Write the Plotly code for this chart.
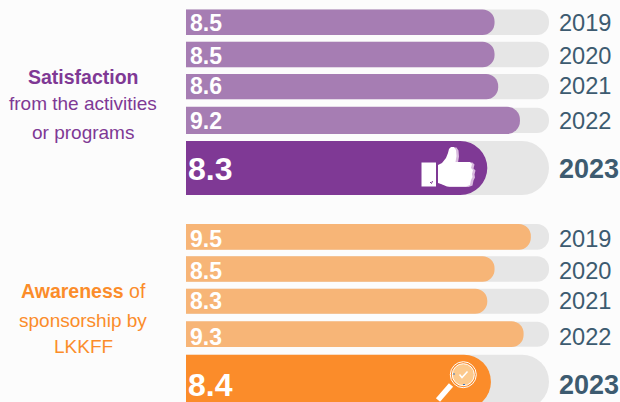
import plotly.graph_objects as go

# Survey scores out of 10
years = ["2019", "2020", "2021", "2022", "2023"]
satisfaction = [8.5, 8.5, 8.6, 9.2, 8.3]
awareness = [9.5, 8.5, 8.3, 9.3, 8.4]
scale_max = 10

# Row layout in page pixels: (top, bottom, track top, track bottom, label centre)
W, H = 620, 402
satisfaction_rows = [
    (9.5, 35, 9.5, 35, 23),
    (41.7, 67.3, 41.7, 67.3, 56),
    (74, 99.3, 74, 99.3, 86),
    (106.7, 134, 107.7, 133, 121),
    (141, 195, 141, 195, 169),
]
awareness_rows = [
    (224, 249.7, 224, 249.7, 239),
    (256.3, 281.7, 256.3, 281.7, 271),
    (288.7, 313.7, 288.7, 313.7, 301),
    (321.3, 347, 321.7, 346.7, 337),
    (354.7, 409, 354.7, 409, 385),
]

TRACK = "#e6e6e6"
PURPLE, PURPLE_SOFT = "#7f3995", "#a67db3"
ORANGE, ORANGE_SOFT = "#fb8c2a", "#f7b577"
YEAR_COLOR = "#3d5b70"
FONT = "Liberation Sans, Arial, sans-serif"

PX_PER_UNIT = 36.3
X0 = 186

fig = go.Figure()
annotations = []


def add_group(values, rows, strong, soft):
    for i, (val, row) in enumerate(zip(values, rows)):
        top, bottom, t_top, t_bottom, mid = row
        latest = i == len(values) - 1
        # Grey tracks sit on the base axes, scores on the overlaid pair above them
        fig.add_trace(go.Bar(
            x=[scale_max], y=[(t_top + t_bottom) / 2], width=[t_bottom - t_top],
            orientation="h", marker=dict(color=TRACK, cornerradius=(t_bottom - t_top) / 2, line_width=0),
            hoverinfo="skip", showlegend=False))
        fig.add_trace(go.Bar(
            x=[val], y=[(top + bottom) / 2], width=[bottom - top], xaxis="x2", yaxis="y2",
            orientation="h", marker=dict(color=strong if latest else soft,
                                         cornerradius=(bottom - top) / 2, line_width=0),
            hoverinfo="skip", showlegend=False))
        annotations.append(dict(
            x=0, y=mid, xref="x", yref="y", xanchor="left", yanchor="middle",
            xshift=0 if latest else 2, text=f"<b>{val:.1f}</b>", showarrow=False,
            font=dict(family=FONT, color="white", size=32 if latest else 23)))
        annotations.append(dict(
            x=scale_max, y=mid, xref="x", yref="y", xanchor="left", yanchor="middle",
            xshift=8, text=f"<b>{years[i]}</b>" if latest else years[i], showarrow=False,
            font=dict(family=FONT, color=YEAR_COLOR, size=27 if latest else 23.6)))


add_group(satisfaction, satisfaction_rows, PURPLE, PURPLE_SOFT)
add_group(awareness, awareness_rows, ORANGE, ORANGE_SOFT)


def side_note(text, y, color, size=19):
    annotations.append(dict(
        x=83 / W, y=1 - y / H, xref="paper", yref="paper", xanchor="center", yanchor="middle",
        text=text, showarrow=False, font=dict(family=FONT, color=color, size=size)))


side_note("<b>Satisfaction</b>", 77, PURPLE, 19.5)
side_note("from the activities", 104, PURPLE)
side_note("or programs", 132, PURPLE)
side_note("<b>Awareness</b> of", 291, ORANGE, 19.5)
side_note("sponsorship by", 320, ORANGE)
side_note("LKKFF", 346, ORANGE)


# Icon helpers: page pixels converted to paper coordinates
def px(x):
    return x / W


def py(y):
    return 1 - y / H


def poly(points, dx=0, dy=0):
    out = []
    for i, (x, y) in enumerate(points):
        out.append(f"{'M' if i == 0 else 'L'}{px(x + dx):.5f},{py(y + dy):.5f}")
    return " ".join(out) + " Z"


hand = [(438, 165), (442, 163), (446, 158), (448, 153), (449, 149), (451, 147), (454, 147),
        (456, 150), (456.5, 156), (455.5, 162), (470, 162), (472, 164), (471, 168), (473, 170),
        (472, 174), (472.5, 177), (471, 180), (470, 185), (466, 186.5), (447, 186.5), (441, 184), (438, 183)]
cuff = [(421.5, 162.5), (436, 162.5), (436, 186.5), (421.5, 186.5)]
shapes = [
    dict(type="path", path=poly(hand, 2.5, 0.5), xref="paper", yref="paper",
         fillcolor="#d9bbdf", line_width=0, layer="above"),
    dict(type="path", path=poly(hand), xref="paper", yref="paper",
         fillcolor="white", line_width=0, layer="above"),
    dict(type="path", path=poly(cuff), xref="paper", yref="paper",
         fillcolor="white", line_width=0, layer="above"),
    dict(type="path", path=f"M{px(430)},{py(182)} L{px(431.5)},{py(183.5)} L{px(432.5)},{py(181)}",
         xref="paper", yref="paper", line=dict(color=PURPLE, width=1), layer="above"),
]

# Magnifying glass on the latest awareness bar
cx, cy = 463.3, 374.7


def ring(r, fill, line=None, width=0):
    return dict(type="circle", x0=px(cx - r), x1=px(cx + r), y0=py(cy + r), y1=py(cy - r),
                xref="paper", yref="paper", fillcolor=fill,
                line=dict(color=line or fill, width=width), layer="above")


shapes += [
    dict(type="line", x0=px(451), y0=py(385), x1=px(438), y1=py(400), xref="paper", yref="paper",
         line=dict(color="white", width=5.5), layer="above"),
    ring(13, ORANGE, "white", 1),
    ring(11, "#fcc98c", "white", 1),
    dict(type="path", path=f"M{px(459.5)},{py(374.5)} L{px(462)},{py(377.5)} L{px(467.5)},{py(371.5)}",
         xref="paper", yref="paper", line=dict(color="white", width=1.5), layer="above"),
    dict(type="line", x0=px(453), y0=py(374), x1=px(455), y1=py(374), xref="paper", yref="paper",
         line=dict(color="#3b78c2", width=1), layer="above"),
    dict(type="line", x0=px(463), y0=py(384.5), x1=px(465), y1=py(384.5), xref="paper", yref="paper",
         line=dict(color="#3b78c2", width=1), layer="above"),
]

x_range = [-X0 / PX_PER_UNIT, (W - X0) / PX_PER_UNIT]
fig.update_layout(
    width=W, height=H, margin=dict(l=0, r=0, t=0, b=0),
    paper_bgcolor="#fcfcfc", plot_bgcolor="rgba(0,0,0,0)",
    barmode="overlay", showlegend=False,
    xaxis=dict(range=x_range, visible=False, fixedrange=True),
    yaxis=dict(range=[H, 0], visible=False, fixedrange=True),
    xaxis2=dict(range=x_range, visible=False, fixedrange=True, overlaying="x"),
    yaxis2=dict(range=[H, 0], visible=False, fixedrange=True, overlaying="y"),
    annotations=annotations, shapes=shapes,
)

fig.write_html("out.html", config={"displayModeBar": False})
